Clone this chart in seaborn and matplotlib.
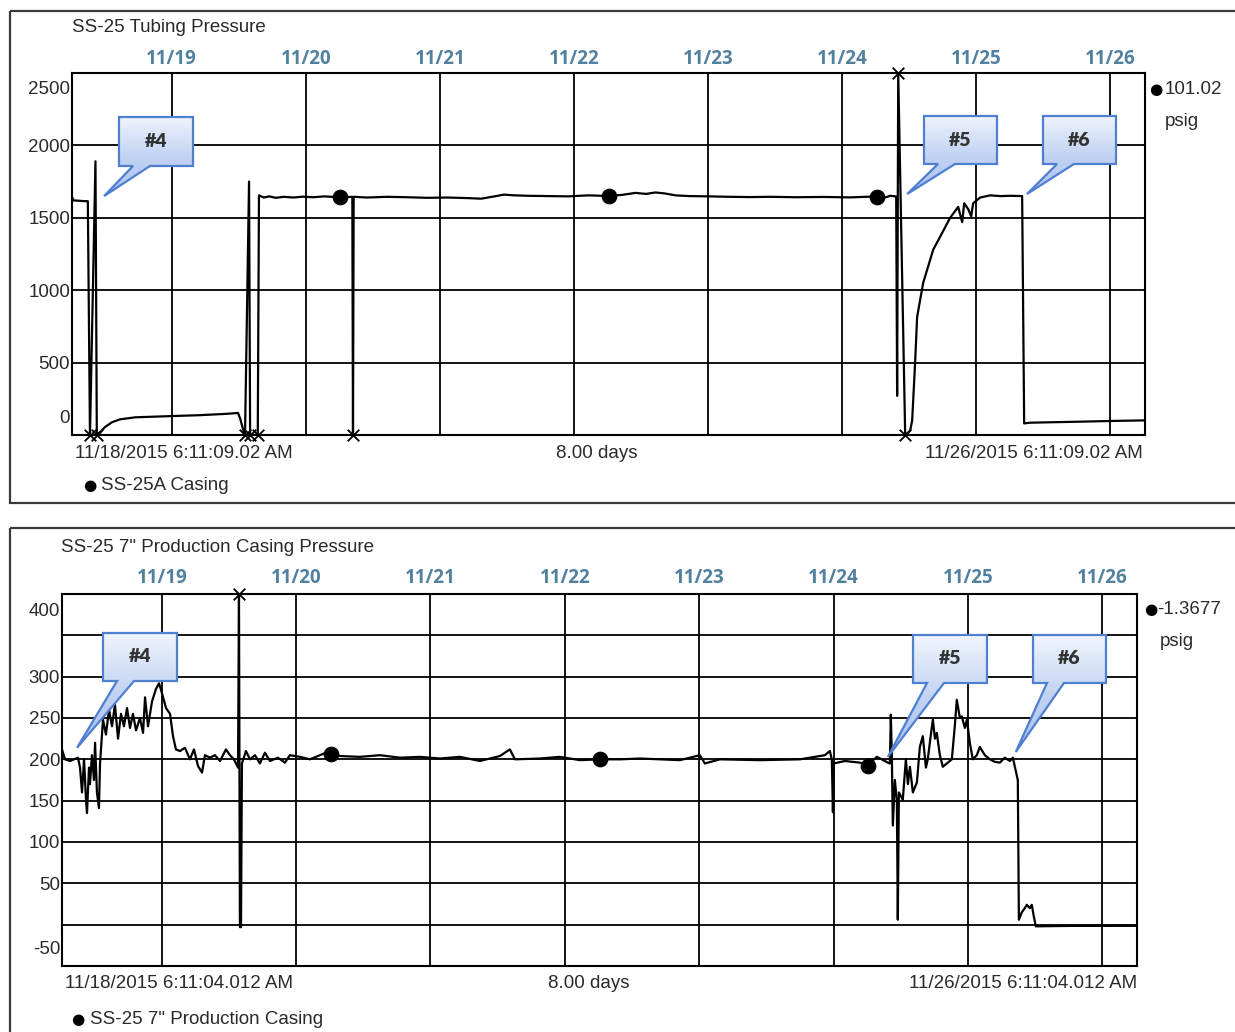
import numpy as np
import pandas as pd
import matplotlib
matplotlib.use("Agg")
import matplotlib.pyplot as plt
from matplotlib.path import Path
from matplotlib.patches import PathPatch, Rectangle
from matplotlib.colors import LinearSegmentedColormap
import seaborn as sns

# ---------------------------------------------------------------------------
# Time axis: days elapsed since 11/18/2015 06:11; midnights are gridlines
# ---------------------------------------------------------------------------
day_ticks = [0.7423, 1.7423, 2.7423, 3.7423, 4.7423, 5.7423, 6.7423, 7.7423]
day_labels = ["11/19", "11/20", "11/21", "11/22", "11/23", "11/24", "11/25", "11/26"]

# SS-25 tubing pressure (psig); readings outside 0..2500 are off-scale
tubing_days = [
    0.000, 0.012, 0.050, 0.090, 0.118, 0.134, 0.175, 0.185, 0.209, 0.246,
    0.298, 0.358, 0.470, 0.656, 0.955, 1.150, 1.238, 1.255, 1.275, 1.290,
    1.320, 1.328, 1.385, 1.394, 1.430, 1.470, 1.520, 1.580, 1.650, 1.720,
    1.800, 1.880, 1.950, 2.000, 2.050, 2.090, 2.095, 2.100, 2.200, 2.350,
    2.500, 2.650, 2.800, 2.950, 3.050, 3.150, 3.220, 3.300, 3.400, 3.550,
    3.700, 3.850, 3.950, 4.000, 4.100, 4.200, 4.280, 4.350, 4.420, 4.500,
    4.600, 4.750, 4.900, 5.050, 5.200, 5.400, 5.600, 5.800, 5.950, 6.000,
    6.060, 6.100, 6.140, 6.145, 6.152, 6.160, 6.212, 6.249, 6.264, 6.286,
    6.301, 6.346, 6.421, 6.473, 6.547, 6.607, 6.637, 6.652, 6.682, 6.704,
    6.719, 6.771, 6.846, 6.920, 7.000, 7.084, 7.099, 7.144, 7.300, 7.517,
    7.750, 8.000,
]
tubing_psig = [
    1645, 1620, 1618, 1615, 1615, -30, 1890, -30, 20, 55,
    88, 108, 122, 128, 137, 146, 152, 110, 40, -30,
    1750, -30, -30, 1655, 1640, 1648, 1638, 1645, 1640, 1646,
    1642, 1648, 1644, 1645, 1643, 1645, -30, 1645, 1640, 1645,
    1642, 1638, 1640, 1636, 1632, 1648, 1660, 1655, 1652, 1650,
    1648, 1655, 1652, 1652, 1658, 1672, 1665, 1675, 1668, 1655,
    1650, 1648, 1645, 1643, 1645, 1642, 1644, 1641, 1646, 1645,
    1640, 1652, 1648, 1645, 270, 2600, -30, 30, 100, 500,
    815, 1050, 1280, 1370, 1500, 1575, 1470, 1600, 1560, 1510,
    1600, 1640, 1655, 1650, 1652, 1650, 80, 85, 88, 92,
    97, 101,
]
tubing_marker_days = [2.0, 4.0, 6.0]
tubing_marker_psig = [1645, 1652, 1645]
tubing_ylim = (0, 2500)
tubing_grid = [500, 1000, 1500, 2000]
tubing_ticklabels = [0, 500, 1000, 1500, 2000, 2500]

# SS-25 7" production casing pressure (psig); readings outside -50..400 are off-scale
casing_days = [
    0.000, 0.022, 0.060, 0.119, 0.134, 0.149, 0.164, 0.179, 0.186, 0.201,
    0.208, 0.223, 0.238, 0.246, 0.260, 0.275, 0.283, 0.305, 0.327, 0.350,
    0.372, 0.394, 0.417, 0.439, 0.461, 0.484, 0.506, 0.528, 0.551, 0.580,
    0.603, 0.618, 0.640, 0.670, 0.699, 0.722, 0.744, 0.774, 0.804, 0.826,
    0.848, 0.878, 0.915, 0.952, 0.982, 1.012, 1.042, 1.064, 1.101, 1.138,
    1.176, 1.220, 1.250, 1.280, 1.310, 1.317, 1.324, 1.332, 1.339, 1.369,
    1.399, 1.436, 1.473, 1.510, 1.548, 1.607, 1.659, 1.696, 1.771, 1.845,
    1.920, 1.994, 2.068, 2.217, 2.366, 2.515, 2.664, 2.813, 2.961, 3.110,
    3.259, 3.333, 3.371, 3.557, 3.705, 3.854, 4.003, 4.152, 4.301, 4.449,
    4.598, 4.747, 4.784, 4.896, 5.193, 5.491, 5.677, 5.714, 5.729, 5.737,
    5.744, 5.826, 5.938, 5.997, 6.064, 6.124, 6.146, 6.161, 6.168, 6.176,
    6.183, 6.198, 6.213, 6.220, 6.228, 6.257, 6.280, 6.295, 6.310, 6.332,
    6.362, 6.384, 6.406, 6.429, 6.443, 6.466, 6.481, 6.496, 6.510, 6.533,
    6.555, 6.585, 6.622, 6.644, 6.659, 6.682, 6.696, 6.719, 6.734, 6.756,
    6.778, 6.808, 6.830, 6.868, 6.905, 6.942, 6.979, 7.016, 7.054, 7.076,
    7.113, 7.121, 7.143, 7.165, 7.180, 7.202, 7.217, 7.232, 7.247, 7.500,
    7.800, 8.000,
]
casing_psig = [
    212, 200, 198, 202, 190, 160, 200, 150, 135, 190,
    170, 205, 175, 220, 160, 141, 195, 248, 230, 260,
    240, 266, 225, 255, 240, 262, 238, 255, 235, 250,
    232, 275, 240, 270, 285, 292, 280, 262, 255, 228,
    212, 210, 214, 200, 212, 192, 184, 205, 202, 205,
    198, 212, 205, 200, 190, 420, -3, -3, 195, 210,
    200, 205, 195, 208, 198, 202, 196, 205, 203, 200,
    205, 210, 204, 203, 205, 202, 203, 201, 203, 198,
    204, 212, 200, 201, 203, 199, 200, 200, 201, 200,
    199, 205, 195, 200, 199, 200, 205, 210, 200, 136,
    195, 198, 196, 193, 203, 198, 196, 195, 254, 200,
    120, 175, 150, 6, 160, 151, 200, 170, 191, 160,
    172, 215, 228, 190, 200, 230, 248, 225, 232, 205,
    191, 195, 200, 240, 272, 250, 252, 238, 248, 220,
    200, 205, 215, 205, 200, 197, 196, 202, 198, 202,
    175, 6, 15, 20, 24, 20, 24, 10, -2, -1.5,
    -1.4, -1.4,
]
casing_marker_days = [2.0, 4.0, 6.0]
casing_marker_psig = [207, 200, 192]
casing_ylim = (-50, 400)
casing_grid = [0, 50, 100, 150, 200, 250, 300, 350]
casing_ticklabels = [-50, 50, 100, 150, 200, 250, 300, 400]

# ---------------------------------------------------------------------------
W, H = 1235, 1032
sns.set_style("white")
plt.rcParams["font.family"] = ["Liberation Sans Narrow", "Liberation Sans", "DejaVu Sans"]
TXT = "#2a2a2a"
DATE_BLUE = "#52809f"
FS = 13.5

fig = plt.figure(figsize=(W / 100, H / 100), dpi=100)


def px_axes(left, top, right, bottom):
    return fig.add_axes([left / W, 1 - bottom / H, (right - left) / W, (bottom - top) / H])


def style_panel(ax, ylim, grid, ticklabels, label_gap):
    ax.set_xlim(0, 8)
    ax.set_ylim(*ylim)
    ax.set_xticks(day_ticks)
    ax.set_yticks(grid)
    ax.grid(True, color="black", lw=1.3)
    ax.tick_params(length=0, labelbottom=False, labelleft=False)
    ax.set_xlabel("")
    ax.set_ylabel("")
    for s in ax.spines.values():
        s.set_color("black")
        s.set_linewidth(1.5)
    for d, lab in zip(day_ticks, day_labels):
        ax.annotate(lab, xy=(d, 1), xycoords=("data", "axes fraction"),
                    xytext=(0, label_gap), textcoords="offset pixels",
                    ha="center", va="center", fontsize=13.5, fontweight="bold",
                    color=DATE_BLUE, family=["Open Sans", "DejaVu Sans"])
    for v in ticklabels:
        dy = -2
        if v == ylim[1]:
            dy = -17
        elif v == ylim[0]:
            dy = 17
        ax.annotate(str(v), xy=(0, v), xycoords=("axes fraction", "data"),
                    xytext=(-2, dy), textcoords="offset pixels",
                    ha="right", va="center", fontsize=FS, color=TXT)


def draw_trace(ax, days, vals, ylim, mdays, mvals):
    v = np.asarray(vals, float)
    d = np.asarray(days, float)
    shown = np.clip(v, *ylim)
    df = pd.DataFrame({"day": d, "psig": shown})
    sns.lineplot(data=df, x="day", y="psig", ax=ax, color="black", lw=1.6,
                 sort=False, estimator=None, zorder=4)
    off = (v < ylim[0]) | (v > ylim[1])
    sns.scatterplot(x=d[off], y=shown[off], ax=ax, marker="x", s=70,
                    color="black", linewidth=1.3, clip_on=False, zorder=5)
    sns.scatterplot(x=mdays, y=mvals, ax=ax, s=110, color="black",
                    edgecolor="black", zorder=6)


ax_top = px_axes(72, 73, 1145, 435)
draw_trace(ax_top, tubing_days, tubing_psig, tubing_ylim,
           tubing_marker_days, tubing_marker_psig)
style_panel(ax_top, tubing_ylim, tubing_grid, tubing_ticklabels, 14)

ax_bot = px_axes(62, 594, 1137, 966)
draw_trace(ax_bot, casing_days, casing_psig, casing_ylim,
           casing_marker_days, casing_marker_psig)
style_panel(ax_bot, casing_ylim, casing_grid, casing_ticklabels, 16)

# ---------------------------------------------------------------------------
# Page overlay in pixel coordinates: frames, captions, callouts
# ---------------------------------------------------------------------------
ov = fig.add_axes([0, 0, 1, 1], zorder=10)
ov.patch.set_visible(False)
ov.axis("off")

ov.add_patch(Rectangle((10, 11), 1240, 492, fill=False, ec="#3a3a3a", lw=1.6, clip_on=False))
ov.add_patch(Rectangle((10, 528), 1240, 520, fill=False, ec="#3a3a3a", lw=1.6, clip_on=False))


def label(x, y, s, ha="left", size=FS):
    ov.text(x, y + 2, s, ha=ha, va="center", fontsize=size, color=TXT)


def bullet(x, y):
    ov.text(x, y + 1, "●", ha="center", va="center", fontsize=11, color="black",
            family=["DejaVu Sans"])


label(72, 26, "SS-25 Tubing Pressure")
label(75, 451, "11/18/2015 6:11:09.02 AM")
label(597, 451, "8.00 days", ha="center")
label(1143, 451, "11/26/2015 6:11:09.02 AM", ha="right")
bullet(90, 485)
label(101, 484, "SS-25A Casing")
bullet(1156, 88)
label(1165, 88, "101.02")
label(1165, 120, "psig")

label(61, 546, "SS-25 7\" Production Casing Pressure")
label(65, 982, "11/18/2015 6:11:04.012 AM")
label(589, 982, "8.00 days", ha="center")
label(1137, 982, "11/26/2015 6:11:04.012 AM", ha="right")
bullet(78, 1018)
label(90, 1017, "SS-25 7\" Production Casing")
bullet(1151, 608)
label(1157, 607, "-1.3677")
label(1160, 640, "psig")

callout_cmap = LinearSegmentedColormap.from_list("callout", ["#f0f4fd", "#c3d4f3", "#a9c0ee"])


def callout(ax, tip, box, text):
    tx, ty = ax.transData.transform(tip)
    ty = H - ty
    l, t, w, h = box
    b = t + h
    verts = [(l, t), (l + w, t), (l + w, b), (l + 31, b), (tx, ty),
             (l + 14, b), (l, b), (l, t)]
    codes = [Path.MOVETO] + [Path.LINETO] * 6 + [Path.CLOSEPOLY]
    patch = PathPatch(Path(verts, codes), fc="none", ec="#4f7fd0", lw=1.6, zorder=12)
    ov.add_patch(patch)
    grad = np.linspace(0, 1, 200).reshape(-1, 1)
    x0 = min(l, tx)
    im = ov.imshow(grad, cmap=callout_cmap, extent=(x0, l + w, ty, t),
                   origin="upper", aspect="auto", zorder=11, interpolation="bilinear")
    im.set_clip_path(patch)
    ov.text(l + w / 2, t + h / 2, text, ha="center", va="center", fontsize=14,
            fontweight="heavy", color="#333333", family=["Lato", "DejaVu Sans"], zorder=13)


callout(ax_top, (0.239, 1650), (119, 117, 74, 49), "#4")
callout(ax_top, (6.227, 1664), (924, 116, 73, 48), "#5")
callout(ax_top, (7.120, 1664), (1043, 116, 73, 48), "#6")
callout(ax_bot, (0.112, 214), (103, 633, 74, 48), "#4")
callout(ax_bot, (6.146, 203), (913, 635, 74, 48), "#5")
callout(ax_bot, (7.098, 209), (1033, 635, 73, 48), "#6")

ov.set_xlim(0, W)
ov.set_ylim(H, 0)

fig.savefig("out.png", dpi=100)
